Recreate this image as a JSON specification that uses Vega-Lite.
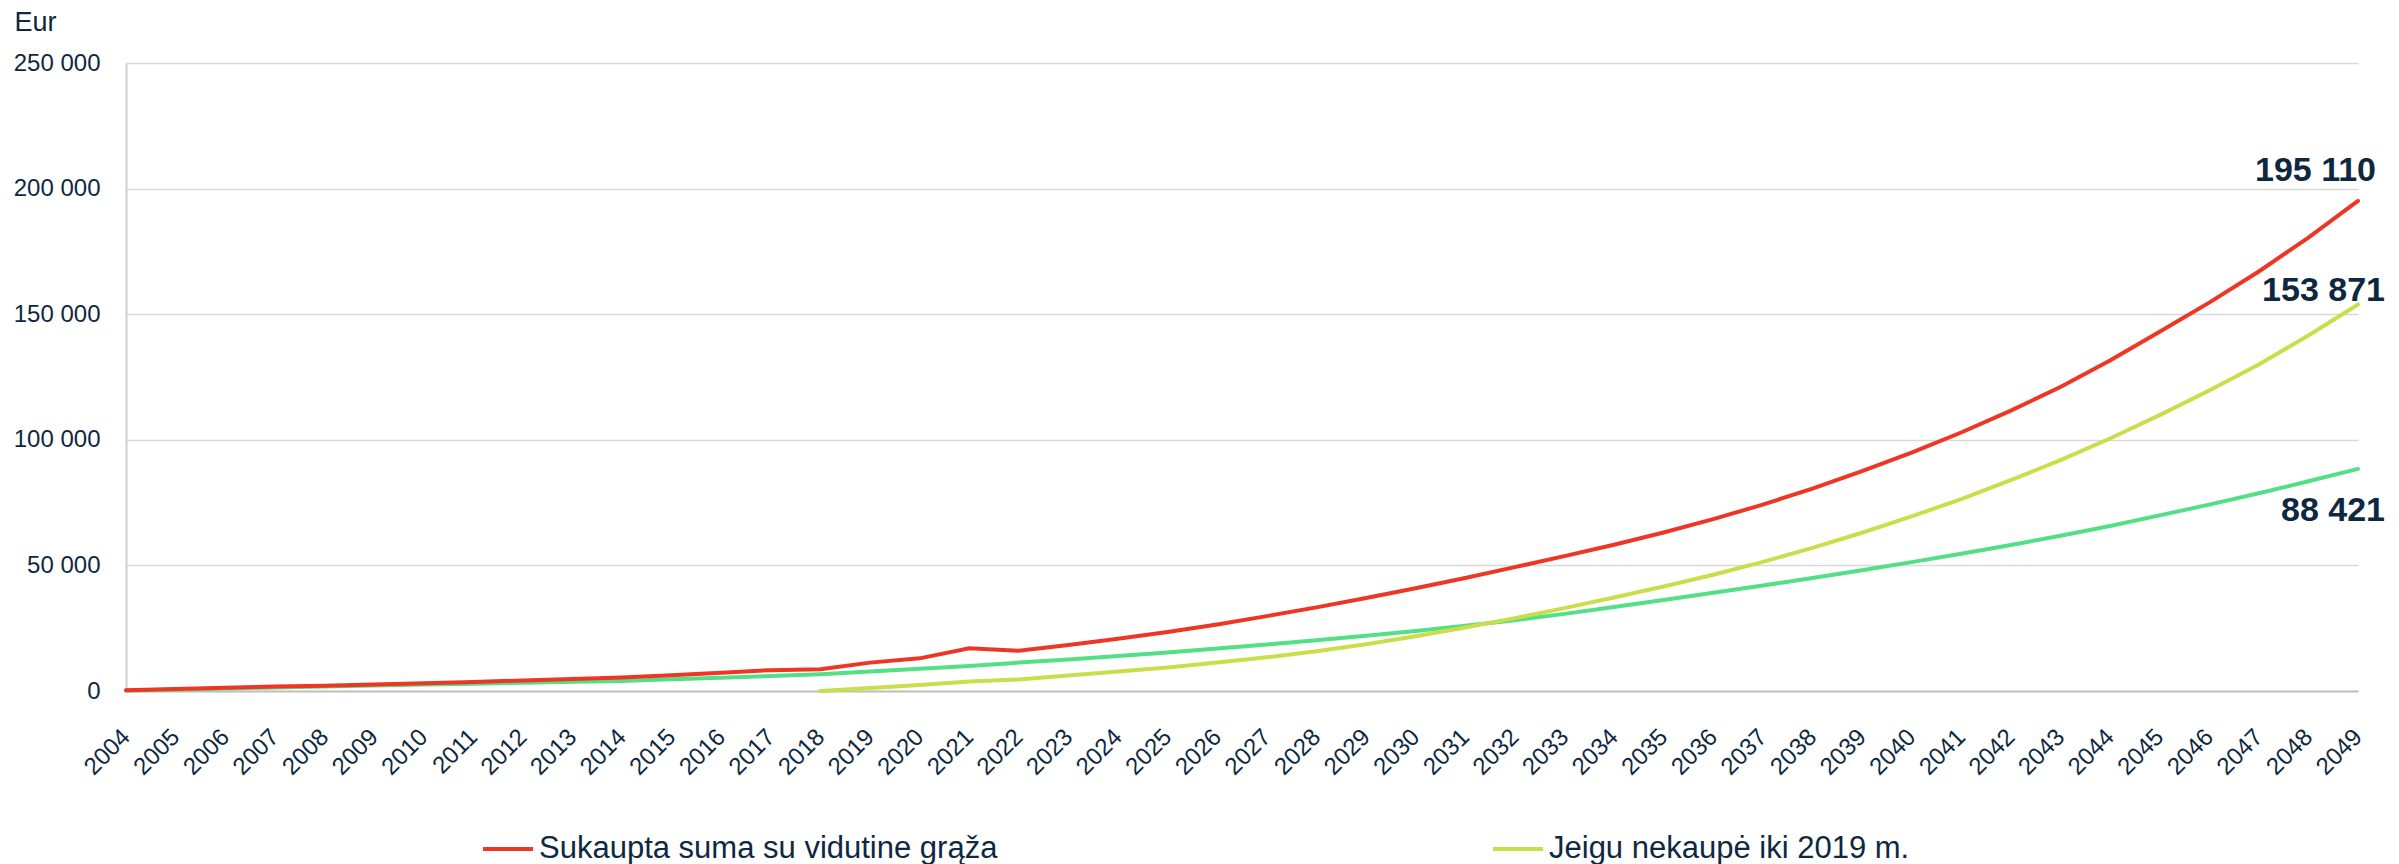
{
  "$schema": "https://vega.github.io/schema/vega-lite/v6.json",
  "width": 2232,
  "height": 628,
  "autosize": {"type": "none"},
  "padding": {"left": 126, "top": 63, "right": 41, "bottom": 173},
  "background": "white",
  "config": {
    "view": {"stroke": null},
    "font": "Liberation Sans",
    "locale": {"number": {"decimal": ",", "thousands": " ", "grouping": [3], "currency": ["", " €"]}}
  },
  "data": {"values": [
    {"year": 2004, "series": "Sukaupta suma su vidutine grąža", "value": 300},
    {"year": 2005, "series": "Sukaupta suma su vidutine grąža", "value": 800},
    {"year": 2006, "series": "Sukaupta suma su vidutine grąža", "value": 1300},
    {"year": 2007, "series": "Sukaupta suma su vidutine grąža", "value": 1800},
    {"year": 2008, "series": "Sukaupta suma su vidutine grąža", "value": 2100},
    {"year": 2009, "series": "Sukaupta suma su vidutine grąža", "value": 2600},
    {"year": 2010, "series": "Sukaupta suma su vidutine grąža", "value": 3100},
    {"year": 2011, "series": "Sukaupta suma su vidutine grąža", "value": 3600},
    {"year": 2012, "series": "Sukaupta suma su vidutine grąža", "value": 4200},
    {"year": 2013, "series": "Sukaupta suma su vidutine grąža", "value": 4800},
    {"year": 2014, "series": "Sukaupta suma su vidutine grąža", "value": 5400},
    {"year": 2015, "series": "Sukaupta suma su vidutine grąža", "value": 6300},
    {"year": 2016, "series": "Sukaupta suma su vidutine grąža", "value": 7300},
    {"year": 2017, "series": "Sukaupta suma su vidutine grąža", "value": 8300},
    {"year": 2018, "series": "Sukaupta suma su vidutine grąža", "value": 8700},
    {"year": 2019, "series": "Sukaupta suma su vidutine grąža", "value": 11300},
    {"year": 2020, "series": "Sukaupta suma su vidutine grąža", "value": 13000},
    {"year": 2021, "series": "Sukaupta suma su vidutine grąža", "value": 17000},
    {"year": 2022, "series": "Sukaupta suma su vidutine grąža", "value": 16000},
    {"year": 2023, "series": "Sukaupta suma su vidutine grąža", "value": 18300},
    {"year": 2024, "series": "Sukaupta suma su vidutine grąža", "value": 20800},
    {"year": 2025, "series": "Sukaupta suma su vidutine grąža", "value": 23500},
    {"year": 2026, "series": "Sukaupta suma su vidutine grąža", "value": 26500},
    {"year": 2027, "series": "Sukaupta suma su vidutine grąža", "value": 29800},
    {"year": 2028, "series": "Sukaupta suma su vidutine grąža", "value": 33300},
    {"year": 2029, "series": "Sukaupta suma su vidutine grąža", "value": 37000},
    {"year": 2030, "series": "Sukaupta suma su vidutine grąža", "value": 40900},
    {"year": 2031, "series": "Sukaupta suma su vidutine grąža", "value": 45000},
    {"year": 2032, "series": "Sukaupta suma su vidutine grąža", "value": 49300},
    {"year": 2033, "series": "Sukaupta suma su vidutine grąža", "value": 53700},
    {"year": 2034, "series": "Sukaupta suma su vidutine grąža", "value": 58200},
    {"year": 2035, "series": "Sukaupta suma su vidutine grąža", "value": 63100},
    {"year": 2036, "series": "Sukaupta suma su vidutine grąža", "value": 68400},
    {"year": 2037, "series": "Sukaupta suma su vidutine grąža", "value": 74200},
    {"year": 2038, "series": "Sukaupta suma su vidutine grąža", "value": 80600},
    {"year": 2039, "series": "Sukaupta suma su vidutine grąža", "value": 87500},
    {"year": 2040, "series": "Sukaupta suma su vidutine grąža", "value": 94900},
    {"year": 2041, "series": "Sukaupta suma su vidutine grąža", "value": 102900},
    {"year": 2042, "series": "Sukaupta suma su vidutine grąža", "value": 111600},
    {"year": 2043, "series": "Sukaupta suma su vidutine grąža", "value": 121000},
    {"year": 2044, "series": "Sukaupta suma su vidutine grąža", "value": 131600},
    {"year": 2045, "series": "Sukaupta suma su vidutine grąža", "value": 143000},
    {"year": 2046, "series": "Sukaupta suma su vidutine grąža", "value": 154600},
    {"year": 2047, "series": "Sukaupta suma su vidutine grąža", "value": 167000},
    {"year": 2048, "series": "Sukaupta suma su vidutine grąža", "value": 180500},
    {"year": 2049, "series": "Sukaupta suma su vidutine grąža", "value": 195110},
    {"year": 2004, "series": "Sukauptos įmokos", "value": 200},
    {"year": 2005, "series": "Sukauptos įmokos", "value": 600},
    {"year": 2006, "series": "Sukauptos įmokos", "value": 1000},
    {"year": 2007, "series": "Sukauptos įmokos", "value": 1400},
    {"year": 2008, "series": "Sukauptos įmokos", "value": 1800},
    {"year": 2009, "series": "Sukauptos įmokos", "value": 2200},
    {"year": 2010, "series": "Sukauptos įmokos", "value": 2600},
    {"year": 2011, "series": "Sukauptos įmokos", "value": 2900},
    {"year": 2012, "series": "Sukauptos įmokos", "value": 3300},
    {"year": 2013, "series": "Sukauptos įmokos", "value": 3700},
    {"year": 2014, "series": "Sukauptos įmokos", "value": 4000},
    {"year": 2015, "series": "Sukauptos įmokos", "value": 4700},
    {"year": 2016, "series": "Sukauptos įmokos", "value": 5300},
    {"year": 2017, "series": "Sukauptos įmokos", "value": 6000},
    {"year": 2018, "series": "Sukauptos įmokos", "value": 6700},
    {"year": 2019, "series": "Sukauptos įmokos", "value": 7800},
    {"year": 2020, "series": "Sukauptos įmokos", "value": 8900},
    {"year": 2021, "series": "Sukauptos įmokos", "value": 10000},
    {"year": 2022, "series": "Sukauptos įmokos", "value": 11300},
    {"year": 2023, "series": "Sukauptos įmokos", "value": 12500},
    {"year": 2024, "series": "Sukauptos įmokos", "value": 13900},
    {"year": 2025, "series": "Sukauptos įmokos", "value": 15300},
    {"year": 2026, "series": "Sukauptos įmokos", "value": 16900},
    {"year": 2027, "series": "Sukauptos įmokos", "value": 18500},
    {"year": 2028, "series": "Sukauptos įmokos", "value": 20200},
    {"year": 2029, "series": "Sukauptos įmokos", "value": 22000},
    {"year": 2030, "series": "Sukauptos įmokos", "value": 23900},
    {"year": 2031, "series": "Sukauptos įmokos", "value": 26000},
    {"year": 2032, "series": "Sukauptos įmokos", "value": 28200},
    {"year": 2033, "series": "Sukauptos įmokos", "value": 30700},
    {"year": 2034, "series": "Sukauptos įmokos", "value": 33400},
    {"year": 2035, "series": "Sukauptos įmokos", "value": 36200},
    {"year": 2036, "series": "Sukauptos įmokos", "value": 39100},
    {"year": 2037, "series": "Sukauptos įmokos", "value": 42000},
    {"year": 2038, "series": "Sukauptos įmokos", "value": 45000},
    {"year": 2039, "series": "Sukauptos įmokos", "value": 48100},
    {"year": 2040, "series": "Sukauptos įmokos", "value": 51300},
    {"year": 2041, "series": "Sukauptos įmokos", "value": 54600},
    {"year": 2042, "series": "Sukauptos įmokos", "value": 58100},
    {"year": 2043, "series": "Sukauptos įmokos", "value": 61800},
    {"year": 2044, "series": "Sukauptos įmokos", "value": 65700},
    {"year": 2045, "series": "Sukauptos įmokos", "value": 69900},
    {"year": 2046, "series": "Sukauptos įmokos", "value": 74200},
    {"year": 2047, "series": "Sukauptos įmokos", "value": 78700},
    {"year": 2048, "series": "Sukauptos įmokos", "value": 83500},
    {"year": 2049, "series": "Sukauptos įmokos", "value": 88421},
    {"year": 2018, "series": "Jeigu nekaupė iki 2019 m.", "value": 0},
    {"year": 2019, "series": "Jeigu nekaupė iki 2019 m.", "value": 1200},
    {"year": 2020, "series": "Jeigu nekaupė iki 2019 m.", "value": 2400},
    {"year": 2021, "series": "Jeigu nekaupė iki 2019 m.", "value": 3800},
    {"year": 2022, "series": "Jeigu nekaupė iki 2019 m.", "value": 4600},
    {"year": 2023, "series": "Jeigu nekaupė iki 2019 m.", "value": 6200},
    {"year": 2024, "series": "Jeigu nekaupė iki 2019 m.", "value": 7800},
    {"year": 2025, "series": "Jeigu nekaupė iki 2019 m.", "value": 9400},
    {"year": 2026, "series": "Jeigu nekaupė iki 2019 m.", "value": 11300},
    {"year": 2027, "series": "Jeigu nekaupė iki 2019 m.", "value": 13400},
    {"year": 2028, "series": "Jeigu nekaupė iki 2019 m.", "value": 15800},
    {"year": 2029, "series": "Jeigu nekaupė iki 2019 m.", "value": 18600},
    {"year": 2030, "series": "Jeigu nekaupė iki 2019 m.", "value": 21800},
    {"year": 2031, "series": "Jeigu nekaupė iki 2019 m.", "value": 25300},
    {"year": 2032, "series": "Jeigu nekaupė iki 2019 m.", "value": 29000},
    {"year": 2033, "series": "Jeigu nekaupė iki 2019 m.", "value": 33000},
    {"year": 2034, "series": "Jeigu nekaupė iki 2019 m.", "value": 37200},
    {"year": 2035, "series": "Jeigu nekaupė iki 2019 m.", "value": 41600},
    {"year": 2036, "series": "Jeigu nekaupė iki 2019 m.", "value": 46300},
    {"year": 2037, "series": "Jeigu nekaupė iki 2019 m.", "value": 51400},
    {"year": 2038, "series": "Jeigu nekaupė iki 2019 m.", "value": 57000},
    {"year": 2039, "series": "Jeigu nekaupė iki 2019 m.", "value": 63000},
    {"year": 2040, "series": "Jeigu nekaupė iki 2019 m.", "value": 69500},
    {"year": 2041, "series": "Jeigu nekaupė iki 2019 m.", "value": 76400},
    {"year": 2042, "series": "Jeigu nekaupė iki 2019 m.", "value": 83900},
    {"year": 2043, "series": "Jeigu nekaupė iki 2019 m.", "value": 91900},
    {"year": 2044, "series": "Jeigu nekaupė iki 2019 m.", "value": 100500},
    {"year": 2045, "series": "Jeigu nekaupė iki 2019 m.", "value": 109800},
    {"year": 2046, "series": "Jeigu nekaupė iki 2019 m.", "value": 119600},
    {"year": 2047, "series": "Jeigu nekaupė iki 2019 m.", "value": 130000},
    {"year": 2048, "series": "Jeigu nekaupė iki 2019 m.", "value": 141500},
    {"year": 2049, "series": "Jeigu nekaupė iki 2019 m.", "value": 153871}
  ]},
  "encoding": {
    "x": {
      "field": "year", "type": "ordinal",
      "scale": {"type": "point", "padding": 0},
      "axis": {
        "title": null, "ticks": false, "grid": false,
        "domainColor": "#BFBFBF", "domainWidth": 2,
        "labelAngle": -45, "labelAlign": "right", "labelBaseline": "middle",
        "labelFontSize": 24, "labelColor": "#0E2841", "labelPadding": 42
      }
    },
    "y": {
      "field": "value", "type": "quantitative",
      "scale": {"domain": [0, 250000], "nice": false},
      "axis": {
        "values": [0, 50000, 100000, 150000, 200000, 250000],
        "format": ",d",
        "ticks": false,
        "domainColor": "#D0D0D0", "domainWidth": 2,
        "gridColor": "#D9D9D9", "gridWidth": 1.5,
        "labelFontSize": 24, "labelColor": "#0E2841", "labelPadding": 26,
        "title": "Eur", "titleAngle": 0, "titleAlign": "left", "titleBaseline": "alphabetic",
        "titleX": -112, "titleY": -33, "titleFontSize": 27, "titleFontWeight": "normal",
        "titleColor": "#0E2841"
      }
    }
  },
  "layer": [
    {
      "transform": [{"filter": "datum.series === 'Sukauptos įmokos'"}],
      "mark": {"type": "line", "color": "#52DF86", "strokeWidth": 4, "strokeCap": "round"}
    },
    {
      "transform": [{"filter": "datum.series !== 'Sukauptos įmokos'"}],
      "mark": {"type": "line", "strokeWidth": 4, "strokeCap": "round"},
      "encoding": {
        "color": {
          "field": "series", "type": "nominal",
          "scale": {"domain": ["Sukaupta suma su vidutine grąža", "Jeigu nekaupė iki 2019 m."], "range": ["#ED3624", "#CBDD4B"]},
          "legend": {
            "title": null, "orient": "none", "legendX": 355, "legendY": 759,
            "direction": "horizontal", "columns": 2, "columnPadding": 487,
            "symbolType": "stroke", "symbolSize": 2500, "symbolStrokeWidth": 4,
            "labelFontSize": 31, "labelColor": "#0E2841", "labelLimit": 1000, "labelOffset": 4
          }
        }
      }
    },
    {
      "transform": [{"filter": "datum.year === 2049 && datum.series === 'Sukaupta suma su vidutine grąža'"}],
      "mark": {"type": "text", "align": "right", "baseline": "alphabetic", "dx": 18, "dy": -20, "fontSize": 34, "fontWeight": "bold", "color": "#0E2841"},
      "encoding": {"text": {"field": "value", "type": "quantitative", "format": ",d"}}
    },
    {
      "transform": [{"filter": "datum.year === 2049 && datum.series === 'Jeigu nekaupė iki 2019 m.'"}],
      "mark": {"type": "text", "align": "right", "baseline": "alphabetic", "dx": 27, "dy": -3, "fontSize": 34, "fontWeight": "bold", "color": "#0E2841"},
      "encoding": {"text": {"field": "value", "type": "quantitative", "format": ",d"}}
    },
    {
      "transform": [{"filter": "datum.year === 2049 && datum.series === 'Sukauptos įmokos'"}],
      "mark": {"type": "text", "align": "right", "baseline": "alphabetic", "dx": 27, "dy": 52, "fontSize": 34, "fontWeight": "bold", "color": "#0E2841"},
      "encoding": {"text": {"field": "value", "type": "quantitative", "format": ",d"}}
    }
  ]
}
